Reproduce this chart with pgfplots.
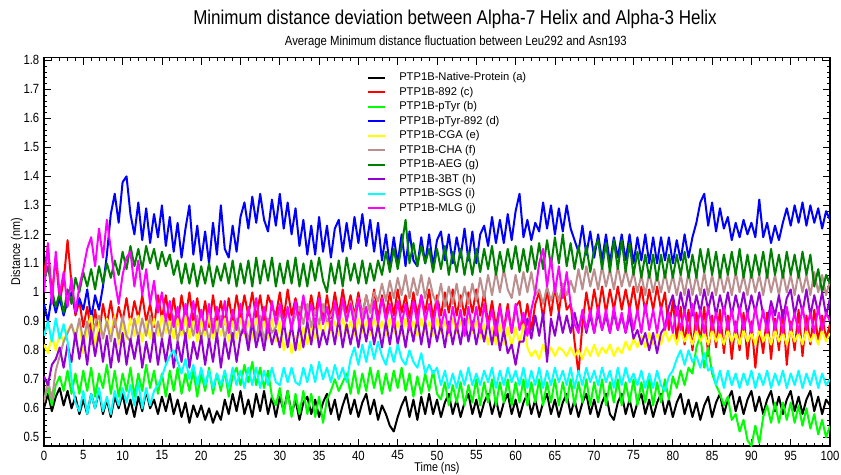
\documentclass[border=0pt]{standalone}
\usepackage{pgfplots}
\pgfplotsset{compat=1.18}
\usepackage{pgfplotstable}
\usepackage{fontspec}
\setmainfont{Liberation Sans}
\newfontfamily\narrow[FakeStretch=0.85]{Liberation Sans}
\definecolor{cBlack}{RGB}{0,0,0}
\definecolor{cRed}{RGB}{255,0,0}
\definecolor{cLime}{RGB}{0,255,0}
\definecolor{cBlue}{RGB}{0,0,255}
\definecolor{cYellow}{RGB}{255,255,0}
\definecolor{cBrown}{RGB}{188,143,143}
\definecolor{cGreen}{RGB}{0,128,0}
\definecolor{cPurple}{RGB}{148,0,211}
\definecolor{cCyan}{RGB}{0,255,255}
\definecolor{cMagenta}{RGB}{255,0,255}
\pgfplotstableread{
t a c b d e f g h i j
0.0 0.60 1.06 0.63 0.96 0.82 0.62 1.04 0.71 0.85 1.00
0.5 0.65 1.16 0.67 0.90 0.79 0.70 1.09 0.68 0.90 1.17
1.0 0.59 0.99 0.61 0.99 0.85 0.63 1.01 0.75 0.83 0.96
1.5 0.64 1.12 0.68 0.93 0.80 0.73 0.95 0.77 0.91 1.14
2.0 0.67 0.97 0.71 0.98 0.86 0.78 1.00 0.81 0.84 0.99
2.5 0.61 1.04 0.66 0.92 0.83 0.83 0.93 0.74 0.89 1.07
3.0 0.66 1.18 0.73 0.97 0.87 0.86 1.01 0.82 0.83 0.95
3.5 0.60 1.03 0.65 1.00 0.89 0.89 0.96 0.76 0.70 1.05
4.0 0.64 0.92 0.72 0.93 0.85 0.84 1.05 0.86 0.62 0.93
4.5 0.58 0.97 0.65 0.98 0.90 0.91 1.00 0.77 0.59 1.02
5.0 0.63 0.88 0.73 0.94 0.79 0.83 1.07 0.85 0.66 1.08
5.5 0.58 0.95 0.66 1.01 0.88 0.90 1.02 0.75 0.58 1.15
6.0 0.65 0.86 0.74 0.91 0.92 0.82 1.08 0.87 0.65 1.19
6.5 0.60 0.94 0.64 0.99 0.80 0.89 1.01 0.78 0.60 1.09
7.0 0.66 0.85 0.72 0.94 0.90 0.92 1.09 0.86 0.67 1.22
7.5 0.58 0.96 0.67 1.02 0.84 0.84 1.03 0.76 0.59 1.12
8.0 0.63 0.89 0.75 1.13 0.91 0.90 1.10 0.85 0.64 1.25
8.5 0.57 0.97 0.65 1.27 0.86 0.83 1.05 0.74 0.58 1.15
9.0 0.64 0.88 0.73 1.34 0.92 0.91 1.11 0.84 0.66 1.04
9.5 0.60 0.95 0.64 1.24 0.82 0.84 1.06 0.76 0.61 0.96
10.0 0.65 0.90 0.72 1.38 0.89 0.92 1.14 0.86 0.67 1.06
10.5 0.58 0.98 0.66 1.40 0.84 0.85 1.08 0.75 0.62 1.12
11.0 0.63 0.89 0.74 1.27 0.91 0.83 1.16 0.84 0.68 1.14
11.5 0.57 0.97 0.64 1.20 0.85 0.91 1.09 0.77 0.61 1.02
12.0 0.64 0.91 0.72 1.31 0.92 0.84 1.15 0.85 0.69 1.11
12.5 0.59 0.99 0.66 1.18 0.83 0.91 1.08 0.74 0.60 0.99
13.0 0.66 0.90 0.75 1.29 0.90 0.85 1.16 0.83 0.67 1.08
13.5 0.60 0.96 0.67 1.17 0.84 0.92 1.10 0.76 0.61 0.96
14.0 0.63 0.88 0.73 1.27 0.91 0.83 1.15 0.86 0.66 1.04
14.5 0.58 0.99 0.65 1.19 0.85 0.90 1.08 0.75 0.68 0.93
15.0 0.64 0.91 0.72 1.30 0.92 0.84 1.14 0.84 0.71 1.00
15.5 0.59 0.99 0.64 1.16 0.86 0.91 1.09 0.76 0.75 0.90
16.0 0.65 0.90 0.73 1.26 0.90 0.85 1.13 0.85 0.78 0.97
16.5 0.58 0.98 0.66 1.14 0.84 0.92 1.06 0.74 0.80 0.88
17.0 0.63 0.89 0.74 1.24 0.91 0.83 1.11 0.83 0.76 0.95
17.5 0.57 0.99 0.65 1.12 0.85 0.90 1.03 0.76 0.72 0.87
18.0 0.62 0.91 0.72 1.22 0.92 0.84 1.10 0.86 0.77 0.96
18.5 0.55 1.00 0.66 1.30 0.84 0.91 1.03 0.74 0.70 0.88
19.0 0.61 0.90 0.73 1.13 0.90 0.85 1.10 0.83 0.75 0.97
19.5 0.57 0.98 0.64 1.23 0.83 0.92 1.02 0.77 0.68 0.86
20.0 0.61 0.89 0.72 1.11 0.91 0.84 1.09 0.85 0.74 0.94
20.5 0.56 0.97 0.66 1.21 0.85 0.90 1.03 0.75 0.68 0.87
21.0 0.60 0.88 0.74 1.10 0.92 0.83 1.10 0.84 0.73 0.96
21.5 0.55 0.99 0.65 1.24 0.84 0.91 1.02 0.76 0.67 0.86
22.0 0.59 0.90 0.72 1.13 0.90 0.85 1.09 0.86 0.72 0.95
22.5 0.56 0.97 0.66 1.30 0.85 0.92 1.04 0.74 0.68 0.88
23.0 0.63 0.89 0.73 1.15 0.91 0.84 1.10 0.84 0.73 0.97
23.5 0.58 0.98 0.64 1.12 0.83 0.90 1.03 0.77 0.67 0.86
24.0 0.65 0.90 0.71 1.23 0.90 0.83 1.11 0.86 0.74 0.94
24.5 0.59 0.99 0.74 1.14 0.84 0.91 1.02 0.76 0.68 0.87
25.0 0.66 0.91 0.68 1.26 0.91 0.85 1.10 0.85 0.73 0.96
25.5 0.58 0.99 0.75 1.31 0.85 0.90 1.03 0.88 0.67 0.86
26.0 0.63 0.92 0.69 1.22 0.90 0.83 1.11 0.80 0.74 0.95
26.5 0.57 1.00 0.76 1.33 0.84 0.91 1.02 0.90 0.68 0.88
27.0 0.65 0.91 0.68 1.24 0.91 0.84 1.12 0.81 0.74 0.98
27.5 0.59 0.99 0.74 1.34 0.85 0.92 1.03 0.87 0.67 0.87
28.0 0.66 0.90 0.67 1.25 0.90 0.83 1.11 0.80 0.73 0.95
28.5 0.58 0.99 0.73 1.21 0.84 0.91 1.04 0.89 0.68 0.86
29.0 0.64 0.95 0.64 1.32 0.91 0.86 1.12 0.82 0.74 0.97
29.5 0.57 0.92 0.61 1.23 0.83 0.88 1.02 0.87 0.69 0.89
30.0 0.64 1.00 0.67 1.34 0.90 0.93 1.10 0.81 0.68 0.96
30.5 0.59 0.91 0.58 1.22 0.80 0.89 1.03 0.90 0.74 0.88
31.0 0.66 1.01 0.66 1.31 0.86 0.94 1.11 0.81 0.69 0.95
31.5 0.58 0.92 0.57 1.20 0.79 0.88 1.03 0.89 0.74 0.87
32.0 0.63 0.98 0.65 1.29 0.85 0.92 1.12 0.80 0.69 0.97
32.5 0.56 0.92 0.58 1.16 0.80 0.95 1.02 0.89 0.68 0.88
33.0 0.62 0.98 0.66 1.25 0.88 0.89 1.10 0.81 0.74 0.99
33.5 0.64 0.91 0.58 1.13 0.82 0.96 1.02 0.90 0.69 0.90
34.0 0.58 0.99 0.65 1.23 0.89 0.88 1.11 0.82 0.75 0.96
34.5 0.63 0.92 0.57 1.13 0.84 0.94 1.04 0.91 0.69 0.88
35.0 0.57 1.00 0.64 1.26 0.90 0.89 1.12 0.81 0.76 0.98
35.5 0.62 0.90 0.55 1.14 0.85 0.96 1.04 0.87 0.70 0.89
36.0 0.65 0.99 0.63 1.23 0.91 0.90 1.00 0.82 0.74 0.95
36.5 0.58 0.91 0.66 1.12 0.86 0.92 1.10 0.90 0.69 0.87
37.0 0.63 1.00 0.70 1.22 0.90 0.95 1.03 0.82 0.75 0.97
37.5 0.56 0.92 0.66 1.25 0.85 0.89 1.11 0.91 0.70 0.89
38.0 0.61 1.01 0.69 1.14 0.91 0.96 1.02 0.81 0.74 0.98
38.5 0.65 0.93 0.72 1.24 0.86 0.90 1.12 0.89 0.69 0.90
39.0 0.58 0.99 0.65 1.15 0.90 0.97 1.04 0.82 0.77 0.96
39.5 0.63 0.92 0.73 1.26 0.85 0.91 1.10 0.89 0.81 0.88
40.0 0.57 1.00 0.65 1.17 0.91 0.98 1.03 0.81 0.75 0.98
40.5 0.62 0.92 0.72 1.27 0.86 0.92 1.11 0.90 0.82 0.89
41.0 0.65 0.99 0.66 1.16 0.90 0.99 1.03 0.83 0.76 0.95
41.5 0.58 0.93 0.74 1.25 0.85 0.93 1.10 0.91 0.83 0.87
42.0 0.63 1.01 0.67 1.14 0.91 1.00 1.04 0.82 0.77 0.97
42.5 0.56 0.91 0.73 1.24 0.86 0.97 1.11 0.89 0.83 0.89
43.0 0.61 0.99 0.65 1.11 0.90 1.03 1.06 0.81 0.78 0.98
43.5 0.58 0.92 0.72 1.20 0.85 0.97 1.14 0.90 0.75 0.90
44.0 0.54 1.00 0.66 1.09 0.91 1.04 1.07 0.82 0.81 0.96
44.5 0.52 0.92 0.73 1.19 0.86 0.98 1.15 0.91 0.76 0.88
45.0 0.57 1.01 0.67 1.10 0.90 1.05 1.08 0.82 0.82 0.97
45.5 0.61 0.93 0.74 1.20 0.85 0.99 1.16 0.89 0.77 0.89
46.0 0.64 0.99 0.66 1.09 0.91 1.06 1.25 0.81 0.75 0.96
46.5 0.57 0.91 0.72 1.21 0.86 0.98 1.10 0.90 0.80 0.87
47.0 0.63 1.00 0.64 1.11 0.90 1.05 1.17 0.83 0.76 0.97
47.5 0.56 0.92 0.71 1.09 0.85 0.99 1.09 0.91 0.74 0.89
48.0 0.64 0.99 0.65 1.19 0.91 1.06 1.16 0.82 0.79 0.99
48.5 0.58 0.93 0.72 1.10 0.86 0.98 1.10 0.90 0.72 0.90
49.0 0.65 1.01 0.66 1.20 0.90 1.05 1.15 0.81 0.75 0.96
49.5 0.58 0.91 0.73 1.09 0.85 0.99 1.07 0.90 0.72 0.88
50.0 0.63 0.99 0.65 1.18 0.91 0.96 1.15 0.83 0.74 0.97
50.5 0.57 0.92 0.63 1.21 0.86 1.03 1.08 0.89 0.68 0.88
51.0 0.62 1.00 0.69 1.11 0.90 0.95 1.16 0.81 0.73 0.94
51.5 0.65 0.93 0.61 1.20 0.85 1.02 1.06 0.90 0.67 0.86
52.0 0.58 1.01 0.68 1.10 0.91 0.96 1.14 0.82 0.72 0.95
52.5 0.63 0.92 0.62 1.19 0.86 1.03 1.07 0.89 0.67 0.87
53.0 0.57 0.99 0.69 1.12 0.90 0.95 1.15 0.82 0.73 0.94
53.5 0.62 0.92 0.61 1.22 0.85 1.02 1.06 0.91 0.68 0.85
54.0 0.65 1.00 0.68 1.11 0.91 0.96 1.14 0.83 0.74 0.95
54.5 0.58 0.93 0.62 1.21 0.86 1.03 1.06 0.90 0.68 0.87
55.0 0.63 1.01 0.70 1.10 0.90 0.97 1.15 0.82 0.72 0.95
55.5 0.57 0.92 0.61 1.20 0.84 1.05 1.07 0.89 0.68 0.86
56.0 0.62 1.00 0.69 1.23 0.89 0.98 1.15 0.83 0.73 0.96
56.5 0.65 0.89 0.62 1.16 0.82 1.06 1.08 0.90 0.69 0.88
57.0 0.58 0.97 0.70 1.26 0.88 0.99 1.16 0.82 0.74 0.94
57.5 0.63 0.88 0.61 1.17 0.82 1.07 1.06 0.90 0.67 0.85
58.0 0.57 0.96 0.69 1.25 0.89 1.00 1.14 0.80 0.73 0.95
58.5 0.62 0.87 0.62 1.17 0.82 1.08 1.07 0.87 0.68 0.87
59.0 0.65 0.96 0.70 1.27 0.88 1.01 1.15 0.79 0.74 0.94
59.5 0.58 0.86 0.61 1.18 0.81 0.98 1.08 0.82 0.69 0.86
60.0 0.63 0.95 0.69 1.28 0.88 1.06 1.16 0.75 0.73 0.96
60.5 0.57 0.97 0.62 1.34 0.82 0.99 1.07 0.83 0.68 0.87
61.0 0.62 0.88 0.70 1.19 0.89 1.07 1.15 0.83 0.74 0.93
61.5 0.65 0.96 0.61 1.25 0.81 1.00 1.07 0.91 0.67 0.85
62.0 0.58 0.87 0.69 1.18 0.78 1.07 1.16 0.84 0.73 0.94
62.5 0.63 0.96 0.62 1.24 0.80 0.99 1.08 0.92 0.68 1.00
63.0 0.57 1.00 0.70 1.21 0.77 1.01 1.17 0.85 0.74 1.10
63.5 0.62 0.91 0.61 1.31 0.82 0.96 1.08 0.93 0.67 1.15
64.0 0.65 1.01 0.69 1.22 0.78 1.02 1.18 0.76 0.73 1.02
64.5 0.58 0.92 0.62 1.30 0.81 0.97 1.09 0.91 0.68 1.12
65.0 0.63 1.02 0.70 1.20 0.78 1.02 1.19 0.85 0.74 1.00
65.5 0.57 0.93 0.61 1.29 0.81 0.97 1.10 0.93 0.69 1.09
66.0 0.62 1.03 0.69 1.21 0.80 1.03 1.20 0.86 0.73 0.98
66.5 0.65 0.94 0.62 1.30 0.78 0.99 1.09 0.92 0.68 1.07
67.0 0.58 0.96 0.70 1.22 0.81 1.04 1.17 0.86 0.74 0.96
67.5 0.63 0.83 0.61 1.18 0.78 1.00 1.08 0.93 0.67 0.89
68.0 0.57 0.72 0.69 1.14 0.80 1.08 1.16 0.87 0.73 0.86
68.5 0.62 0.89 0.62 1.23 0.77 1.01 1.08 0.93 0.68 0.94
69.0 0.65 1.00 0.70 1.13 0.81 1.09 1.16 0.86 0.74 0.87
69.5 0.58 0.92 0.61 1.21 0.78 1.02 1.07 0.92 0.69 0.94
70.0 0.63 1.01 0.69 1.12 0.82 1.08 1.15 0.86 0.73 0.86
70.5 0.57 0.93 0.62 1.20 0.78 1.01 1.18 0.93 0.68 0.95
71.0 0.62 1.02 0.70 1.11 0.81 1.09 1.08 0.87 0.74 0.87
71.5 0.65 0.93 0.61 1.20 0.79 1.02 1.17 0.92 0.69 0.94
72.0 0.58 1.01 0.69 1.10 0.82 1.08 1.07 0.86 0.73 0.86
72.5 0.56 0.94 0.62 1.19 0.78 1.01 1.18 0.93 0.67 0.95
73.0 0.62 1.02 0.70 1.12 0.81 1.09 1.08 0.87 0.74 0.87
73.5 0.65 0.94 0.61 1.20 0.79 1.02 1.18 0.92 0.68 0.93
74.0 0.58 1.01 0.69 1.11 0.83 1.08 1.07 0.86 0.74 0.86
74.5 0.63 0.94 0.62 1.20 0.80 1.02 1.17 0.92 0.69 0.95
75.0 0.57 1.02 0.70 1.10 0.84 1.07 1.06 0.84 0.72 0.87
75.5 0.62 0.93 0.61 1.19 0.81 1.00 1.14 0.87 0.68 0.94
76.0 0.65 1.02 0.69 1.11 0.85 1.06 1.05 0.82 0.73 0.86
76.5 0.58 0.93 0.62 1.20 0.81 0.99 1.13 0.86 0.67 0.96
77.0 0.63 1.01 0.70 1.10 0.86 1.07 1.05 0.80 0.72 0.87
77.5 0.57 0.94 0.61 1.19 0.82 1.00 1.13 0.86 0.67 0.94
78.0 0.62 1.02 0.69 1.10 0.86 1.06 1.04 0.79 0.73 0.86
78.5 0.65 0.94 0.62 1.19 0.82 1.00 1.13 0.86 0.68 0.95
79.0 0.58 1.00 0.70 1.11 0.87 1.07 1.05 0.88 0.66 0.87
79.5 0.63 0.87 0.63 1.19 0.83 1.00 1.13 0.95 0.71 0.93
80.0 0.57 0.97 0.71 1.10 0.86 1.06 1.05 0.99 0.73 0.86
80.5 0.62 0.84 0.67 1.18 0.82 0.99 1.13 0.92 0.77 0.95
81.0 0.65 0.95 0.73 1.11 0.87 1.06 1.06 1.00 0.80 0.87
81.5 0.58 0.82 0.68 1.20 0.83 0.99 1.14 0.93 0.75 0.94
82.0 0.63 0.94 0.74 1.12 0.86 1.07 1.05 1.01 0.80 0.86
82.5 0.57 0.80 0.72 1.19 0.82 0.99 1.13 0.92 0.76 0.96
83.0 0.62 0.93 0.81 1.24 0.87 1.06 1.05 0.99 0.78 0.87
83.5 0.56 0.83 0.85 1.31 0.83 0.99 1.15 0.93 0.74 0.94
84.0 0.61 0.95 0.74 1.34 0.86 1.07 1.07 1.01 0.79 0.86
84.5 0.64 0.78 0.81 1.23 0.82 0.99 1.15 0.94 0.73 0.95
85.0 0.57 0.92 0.72 1.31 0.87 1.06 1.06 1.00 0.74 0.87
85.5 0.62 0.81 0.68 1.21 0.83 0.99 1.14 0.92 0.68 0.93
86.0 0.65 0.94 0.65 1.29 0.86 1.07 1.05 0.99 0.73 0.86
86.5 0.58 0.79 0.61 1.22 0.82 1.00 1.13 0.93 0.67 0.95
87.0 0.63 0.92 0.64 1.26 0.87 1.06 1.06 1.00 0.73 0.87
87.5 0.66 0.77 0.56 1.18 0.83 0.99 1.14 0.92 0.68 0.94
88.0 0.59 0.90 0.58 1.24 0.86 1.07 1.06 0.99 0.72 0.86
88.5 0.64 0.80 0.52 1.19 0.82 1.00 1.15 0.93 0.67 0.95
89.0 0.58 0.93 0.56 1.25 0.87 1.06 1.05 1.00 0.72 0.87
89.5 0.63 0.77 0.49 1.20 0.83 0.99 1.13 0.92 0.68 0.93
90.0 0.66 0.90 0.47 1.24 0.86 1.07 1.05 0.99 0.73 0.86
90.5 0.59 0.74 0.54 1.19 0.82 1.00 1.13 0.93 0.67 0.95
91.0 0.64 0.88 0.48 1.32 0.87 1.06 1.06 1.00 0.72 0.87
91.5 0.58 0.79 0.57 1.19 0.83 0.99 1.14 0.92 0.68 0.94
92.0 0.63 0.93 0.61 1.24 0.86 1.07 1.05 0.89 0.73 0.86
92.5 0.66 0.77 0.55 1.17 0.82 1.00 1.15 0.97 0.67 0.95
93.0 0.59 0.91 0.62 1.23 0.87 1.06 1.06 0.92 0.72 0.87
93.5 0.64 0.80 0.55 1.18 0.83 0.99 1.13 0.99 0.68 0.93
94.0 0.58 0.94 0.62 1.24 0.86 1.07 1.05 0.91 0.73 0.86
94.5 0.63 0.75 0.56 1.29 0.82 1.00 1.14 0.98 0.67 0.95
95.0 0.66 0.90 0.62 1.23 0.87 1.06 1.06 1.01 0.72 0.87
95.5 0.59 0.80 0.55 1.30 0.83 0.99 1.13 0.92 0.68 0.93
96.0 0.64 0.94 0.61 1.24 0.86 1.07 1.05 0.99 0.73 0.86
96.5 0.58 0.78 0.54 1.31 0.82 1.00 1.14 0.93 0.67 0.95
97.0 0.63 0.92 0.60 1.23 0.87 1.06 1.06 1.01 0.72 0.87
97.5 0.66 0.82 0.53 1.30 0.83 0.99 1.13 0.92 0.68 0.93
98.0 0.59 0.94 0.58 1.24 0.86 1.07 1.02 0.99 0.73 0.86
98.5 0.64 0.83 0.51 1.29 0.82 1.00 1.08 0.93 0.67 0.95
99.0 0.58 0.92 0.56 1.22 0.87 1.06 1.00 1.00 0.72 0.87
99.5 0.63 0.84 0.50 1.28 0.83 0.99 1.06 0.92 0.68 0.93
100.0 0.61 0.89 0.54 1.25 0.86 1.04 1.03 0.98 0.70 0.90
}\data
\begin{document}
\begin{tikzpicture}
\useasboundingbox (-33pt,-21pt) rectangle (597.75pt,334.5pt);
\begin{axis}[
  name=ax, at={(0,0)}, anchor=south west,
  scale only axis, width=589.5pt, height=291.375pt,
  xmin=0, xmax=100, ymin=0.47, ymax=1.81,
  xtick={0,5,...,100}, minor x tick num=4,
  ytick={0.5,0.6,0.7,0.8,0.9,1,1.1,1.2,1.3,1.4,1.5,1.6,1.7,1.8}, minor y tick num=4,
  tick align=inside, major tick length=5.5pt, minor tick length=2.5pt,
  tick style={black, line width=0.6pt},
  axis line style={line width=0.9pt},
  /pgf/number format/assume math mode=true,
  ticklabel style={font=\narrow\fontsize{10}{12}\selectfont},
  yticklabel style={/pgf/number format/fixed, /pgf/number format/precision=1},
  xlabel={Time (ns)}, ylabel={Distance (nm)},
  label style={font=\narrow\fontsize{9.5}{11}\selectfont},
  x label style={at={(axis description cs:0.5,-0.058)}, anchor=center},
  y label style={at={(axis description cs:-0.0344,0.5)}, anchor=center},
  legend style={at={(0.405,0.972)}, anchor=north west, draw=none, fill=none,
    font=\fontsize{8.4}{10}\selectfont, row sep=1.3pt,
    nodes={inner sep=1pt},
    /tikz/every odd column/.append style={column sep=9pt}},
  legend cell align=left,
  legend image code/.code={\draw[#1] (0pt,0pt) -- (13pt,0pt);},
  every axis plot/.append style={line width=1.5pt, line join=round},
]
\addplot[cBlack] table[x=t,y=a]{\data};
\addplot[cRed] table[x=t,y=c]{\data};
\addplot[cLime] table[x=t,y=b]{\data};
\addplot[cBlue] table[x=t,y=d]{\data};
\addplot[cYellow] table[x=t,y=e]{\data};
\addplot[cBrown] table[x=t,y=f]{\data};
\addplot[cGreen] table[x=t,y=g]{\data};
\addplot[cPurple] table[x=t,y=h]{\data};
\addplot[cCyan] table[x=t,y=i]{\data};
\addplot[cMagenta] table[x=t,y=j]{\data};
\legend{PTP1B-Native-Protein (a),PTP1B-892 (c),PTP1B-pTyr (b),PTP1B-pTyr-892 (d),PTP1B-CGA (e),PTP1B-CHA (f),PTP1B-AEG (g),PTP1B-3BT (h),PTP1B-SGS (i),PTP1B-MLG (j)}
\end{axis}
\node[font=\narrow\fontsize{15}{18}\selectfont] at (308.25pt,320.25pt) {Minimum distance deviation between Alpha-7 Helix and Alpha-3 Helix};
\node[font=\narrow\fontsize{10}{12}\selectfont] at (308.9pt,303pt) {Average Minimum distance fluctuation between Leu292 and Asn193};
\end{tikzpicture}
\end{document}
